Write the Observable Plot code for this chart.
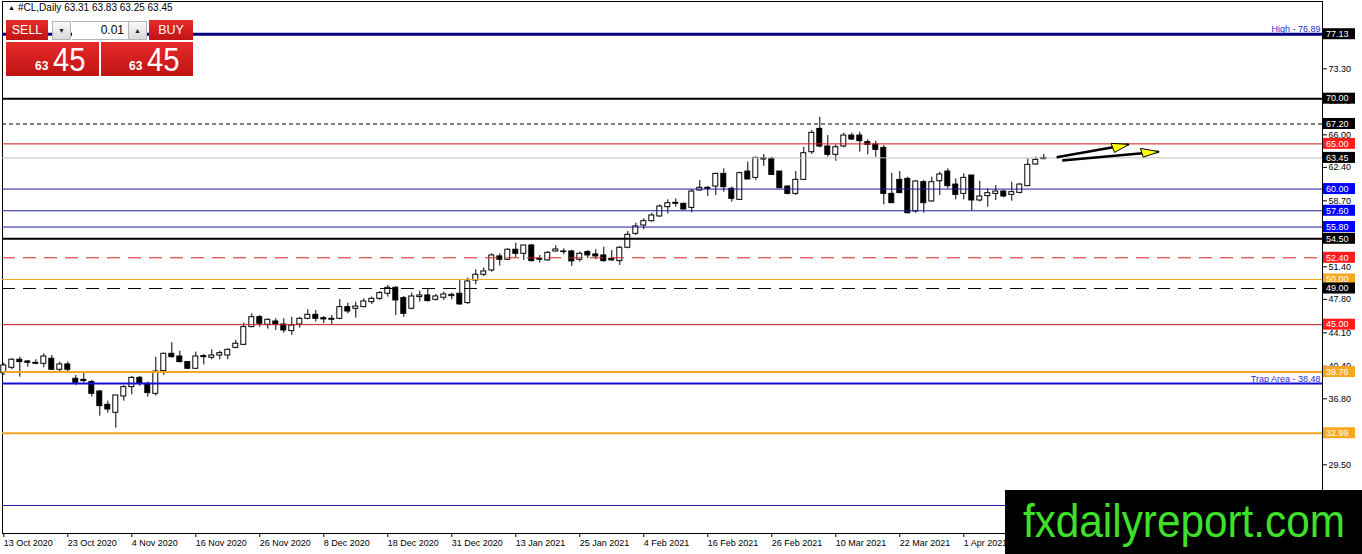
<!DOCTYPE html>
<html><head><meta charset="utf-8">
<script src="https://cdn.jsdelivr.net/npm/d3@7"></script>
<script src="https://cdn.jsdelivr.net/npm/@observablehq/plot@0.6"></script>
<style>
body{margin:0;background:#fff;}
#wrap{position:relative;width:1362px;height:554px;overflow:hidden;font-family:"Liberation Sans",Arial,sans-serif;background:#fff;}
#chart svg{display:block;}
.abs{position:absolute;}
.title{left:18px;top:2px;font-size:10px;color:#000;white-space:nowrap;line-height:12px;}
.tri{left:8px;top:3px;font-size:7px;line-height:10px;}
.red{background:linear-gradient(#e62a2a,#c01414);color:#fff;text-align:center;}
.btn{font-size:12.5px;line-height:20px;height:20px;top:20px;}
.gbtn{top:21px;height:19px;width:19px;background:linear-gradient(#fafafa,#d9d9d9);border:1px solid #b5b5b5;box-sizing:border-box;font-size:7px;line-height:18px;text-align:center;color:#222;}
.lot{left:72px;top:21px;width:56px;height:19px;background:#fff;border-top:1px solid #b5b5b5;border-bottom:1px solid #b5b5b5;box-sizing:border-box;font-size:12px;line-height:17px;text-align:right;padding-right:4px;color:#000;}
.big{top:42px;height:34px;}
.sm{font-size:12px;font-weight:bold;line-height:12px;color:#fff;}
.lg{font-size:34px;line-height:34px;color:#fff;transform:scaleX(0.86);transform-origin:left;}
.logo{left:1005px;top:490px;width:357px;height:64px;background:#000;color:#3fe02a;font-size:47px;line-height:62px;text-align:center;white-space:nowrap;}
.logo span{display:inline-block;transform:scaleX(0.9);}
</style></head>
<body>
<div id="wrap">
  <div id="chart"></div>
  <div class="abs tri">▲</div>
  <div class="abs title" id="title"></div>
  <div class="abs red btn" style="left:6px;width:42px;">SELL</div>
  <div class="abs gbtn" style="left:52px;">▼</div>
  <div class="abs lot">0.01</div>
  <div class="abs gbtn" style="left:128px;">▲</div>
  <div class="abs red btn" style="left:149px;width:44px;">BUY</div>
  <div class="abs red big" style="left:6px;width:93px;"></div>
  <div class="abs red big" style="left:101px;width:92px;"></div>
  <div class="abs sm" style="left:35px;top:60px;">63</div>
  <div class="abs lg" style="left:53px;top:42px;">45</div>
  <div class="abs sm" style="left:129px;top:60px;">63</div>
  <div class="abs lg" style="left:147px;top:42px;">45</div>
  <div class="abs logo"><span>fxdailyreport.com</span></div>
</div>
<script>
// ---- data ----
const symbolTitle = "#CL,Daily  63.31 63.83 63.25 63.45";
const opens = [39.64,40.23,41.12,40.93,40.67,40.67,41.23,40.01,40.60,39.01,
38.90,38.65,37.61,36.14,35.25,37.06,38.09,39.12,38.46,37.35,
39.86,41.78,41.48,40.86,40.12,41.52,41.34,41.59,41.59,42.44,
42.77,44.73,45.83,44.99,45.35,45.02,44.29,45.02,45.65,46.09,
45.72,45.54,45.65,46.94,46.76,46.94,47.49,47.86,48.42,49.08,
47.94,46.76,48.05,48.23,47.75,47.98,48.16,48.42,47.39,49.89,
50.52,51.00,52.55,52.18,53.29,52.84,53.76,52.18,52.11,53.10,
53.10,53.10,52.18,53.03,52.77,52.66,52.29,52.03,53.51,55.05,
55.97,56.45,56.97,58.00,58.48,58.37,57.92,59.84,60.14,60.28,
61.68,60.03,58.81,61.94,61.24,63.42,63.34,61.94,60.28,59.47,
61.02,64.08,66.66,64.71,63.79,64.71,65.92,65.92,65.19,64.93,
64.56,59.47,61.02,61.13,57.52,60.76,58.63,60.87,61.94,60.50,
59.47,61.50,58.74,59.22,59.47,59.73,59.36,59.58,60.32,62.72,63.31];
const highs = [40.75,41.23,41.41,41.04,41.12,41.78,41.59,40.86,40.86,39.38,
39.75,38.83,37.72,36.54,37.17,38.28,39.27,39.27,38.65,41.41,
41.85,43.00,42.07,40.93,41.96,41.70,42.22,42.07,42.33,43.25,
45.17,46.20,46.02,45.65,45.65,45.65,45.83,45.83,46.65,46.57,
45.91,46.02,47.79,47.38,47.49,47.86,48.05,48.67,49.34,49.23,
48.12,48.49,48.71,48.97,48.34,48.60,48.49,49.97,50.15,51.07,
51.26,52.84,52.84,53.40,54.02,53.76,53.87,52.66,53.10,53.73,
53.40,53.21,53.03,53.21,53.29,53.58,53.21,53.65,55.31,56.23,
56.71,57.33,58.26,58.81,58.92,58.44,59.91,60.95,60.28,61.76,
62.24,60.21,61.87,62.98,63.53,63.82,63.53,61.94,60.39,61.94,
64.63,66.48,67.95,65.92,64.89,66.18,66.18,66.29,65.45,65.30,
64.82,61.76,61.94,61.32,60.95,60.95,61.32,61.87,62.24,61.13,
61.68,61.50,60.87,60.03,60.39,59.84,60.76,60.58,63.34,63.53,63.83];
const lows = [39.38,40.01,39.20,40.30,40.56,40.23,39.93,39.64,39.57,38.28,
38.57,36.99,34.88,35.22,33.56,36.54,37.24,38.17,36.99,37.10,
39.38,41.30,40.78,40.05,40.05,40.56,41.12,41.12,41.12,42.33,
42.70,44.65,44.73,44.51,44.36,44.06,43.81,44.62,45.54,45.28,
45.10,45.02,45.54,46.20,45.72,46.87,47.23,47.68,48.05,46.02,
45.80,46.65,47.50,47.50,47.61,47.68,47.75,47.13,47.24,49.41,
50.33,50.81,51.48,52.11,52.40,52.11,51.92,51.81,52.03,53.03,
52.73,51.44,51.92,52.29,52.18,51.92,52.03,51.55,53.40,54.87,
55.50,56.34,56.89,57.26,58.00,57.70,57.37,59.77,59.18,59.29,
59.66,58.55,58.74,61.06,60.95,62.50,61.50,60.03,59.36,59.29,
60.95,63.82,64.56,63.53,63.08,64.56,65.37,64.08,63.79,63.53,
58.26,58.44,59.55,57.26,57.33,57.33,58.55,59.29,60.03,58.81,
58.81,57.63,58.55,58.00,58.74,59.03,58.66,59.47,60.32,62.61,63.25];
const closes = [40.49,41.12,40.86,40.78,40.78,41.48,40.01,40.60,40.01,38.57,
38.76,37.35,35.99,35.62,37.17,38.09,39.12,38.46,37.43,39.82,
41.78,41.41,40.86,40.12,41.48,41.41,41.59,41.85,42.22,42.89,
44.73,45.83,45.10,45.54,45.02,44.36,44.91,45.65,46.09,45.65,
45.58,45.65,46.94,46.46,47.01,47.57,47.86,48.49,49.08,47.68,
46.20,48.12,48.23,47.61,48.12,48.34,48.30,47.24,49.78,50.52,
50.89,52.66,52.18,53.29,52.84,53.76,52.03,52.29,52.95,53.32,
53.03,52.00,52.84,52.66,52.55,52.03,52.11,53.51,54.94,55.87,
56.45,57.08,58.07,58.44,58.37,57.74,59.73,60.14,60.03,61.68,
60.21,58.92,61.76,61.06,63.45,63.27,61.57,60.10,59.47,61.02,
63.97,66.22,64.71,63.79,64.63,65.92,65.48,65.30,64.89,64.34,
59.47,58.44,59.55,57.33,60.84,58.44,60.76,61.61,60.32,59.36,
61.24,58.74,59.18,59.55,59.73,59.18,59.66,60.50,62.68,63.23,63.45];

const xTickIdx = [0,8,16,24,32,40,48,56,64,72,80,88,96,104,112,120];
const xTickLabels = ["13 Oct 2020","23 Oct 2020","4 Nov 2020","16 Nov 2020","26 Nov 2020","8 Dec 2020","18 Dec 2020","31 Dec 2020","13 Jan 2021","25 Jan 2021","4 Feb 2021","16 Feb 2021","26 Feb 2021","10 Mar 2021","22 Mar 2021","1 Apr 2021"];
const yTicks = [29.50,36.80,40.40,44.10,47.80,51.40,58.70,62.40,66.00,69.70,73.30];

const levelValues = [77.13,70.00,67.20,65.00,63.45,60.00,57.60,55.80,54.50,52.40,50.00,49.00,45.00,39.76,38.48,32.99,25.00];
const levelColors = ["#000080","#000000","#000000","#d41c1c","#c0c0c0","#1c1c9c","#1c1c9c","#1c1c9c","#000000","#d42222","#f2a61c","#000000","#cc1414","#f2a620","#1010d8","#f2a620","#1c1c9c"];
const levelWidths = [3,2,1,1,1,1,1,1,2,1,1,1,1,2,2,2,1];
const levelStyles = ["solid","solid","dot","solid","solid","solid","solid","solid","solid","dash","solid","dash","solid","solid","solid","solid","solid"];

const boxValues = [77.13,70.00,67.20,65.00,63.45,60.00,57.60,55.80,54.50,52.40,50.00,49.00,45.00,39.76,32.99];
const boxColors = ["#000","#000","#000","#ff1c1c","#000","#0000ff","#0000ff","#0000ff","#000","#ff1c1c","#f8a820","#000","#ff1c1c","#f8a820","#f8a820"];

const noteValues = [77.13, 38.48];
const noteTexts = ["High - 76.89", "Trap Area - 38.48"];

const arrowX1 = [131.6, 132.3], arrowY1 = [63.53, 63.16];
const arrowX2 = [140.6, 144.4], arrowY2 = [64.93, 64.12];
const triKeys = [0,0,0,1,1,1];
const triX = [138.43,138.84,140.63, 142.09,142.43,144.38];
const triY = [65.01,64.05,64.93, 64.46,63.53,64.12];

// ---- build tables ----
const candles = opens.map((o,i)=>({i, open:o, high:highs[i], low:lows[i], close:closes[i]}));
const levels = levelValues.map((v,k)=>({v, c:levelColors[k], w:levelWidths[k], s:levelStyles[k]}));
const notes = noteValues.map((v,k)=>({v, t:noteTexts[k]}));
const arrows = arrowX1.map((x,k)=>({x1:x, y1:arrowY1[k], x2:arrowX2[k], y2:arrowY2[k]}));
const tri = triX.map((x,k)=>({x, y:triY[k], k:triKeys[k]}));

document.getElementById("title").textContent = symbolTitle;

const chart = Plot.plot({
  width: 1362, height: 554,
  marginLeft: 2, marginRight: 40, marginTop: 1, marginBottom: 21,
  x: {type: "linear", domain: [-0.1625, 164.84], range: [2, 1322]},
  y: {type: "linear", domain: [21.9, 80.75], range: [533, 1]},
  style: {fontFamily: "Liberation Sans, Arial, sans-serif", fontSize: "9px", background: "#fff", color: "#000"},
  marks: [
    Plot.frame({stroke: "#000"}),
    Plot.axisY({anchor: "right", ticks: yTicks, tickSize: 4, tickPadding: 2, tickFormat: d => d.toFixed(2), label: null, fill: "#000", stroke: "#000"}),
    Plot.axisX({anchor: "bottom", ticks: xTickIdx, tickSize: 4, tickPadding: 2, textAnchor: "start", tickFormat: d => xTickLabels[xTickIdx.indexOf(d)], label: null, fill: "#000", stroke: "#000"}),
    Plot.ruleX(candles, {x: "i", y1: "low", y2: "high", stroke: "#000", strokeWidth: 1}),
    Plot.rect(candles, {x1: d => d.i - 0.31, x2: d => d.i + 0.31, y1: "open", y2: "close",
      fill: d => d.close >= d.open ? "#ffffff" : "#000000", stroke: "#000", strokeWidth: 1}),
    Plot.ruleY(levels.filter(d => d.s === "solid"), {y: "v", stroke: "c", strokeWidth: "w"}),
    Plot.ruleY(levels.filter(d => d.s === "dot"), {y: "v", stroke: "c", strokeWidth: "w", strokeDasharray: "4,3"}),
    Plot.ruleY(levels.filter(d => d.s === "dash"), {y: "v", stroke: "c", strokeWidth: "w", strokeDasharray: "13,8"}),
    Plot.text(notes, {y: "v", text: "t", frameAnchor: "right", textAnchor: "end", dx: -2, dy: -5, fill: "#2a2ad0", fontSize: 9}),
    Plot.link(arrows, {x1: "x1", y1: "y1", x2: "x2", y2: "y2", stroke: "#000", strokeWidth: 2.5}),
    Plot.line(tri, {x: "x", y: "y", z: "k", curve: "linear-closed", fill: "#ffff00", stroke: "#000", strokeWidth: 1})
  ]
});
document.getElementById("chart").appendChild(chart);

// value boxes on the right price axis, positioned with Plot's y scale
const ys = chart.scale("y");
const svg = d3.select(chart);
const g = svg.append("g").attr("font-family", "Liberation Sans, Arial, sans-serif").attr("font-size", 9).attr("text-anchor", "start");
boxValues.forEach((v, k) => {
  const yy = ys.apply(v);
  g.append("rect").attr("x", 1323).attr("y", yy - 5.5).attr("width", 32).attr("height", 11).attr("fill", boxColors[k]);
  g.append("text").attr("x", 1326).attr("y", yy + 3.3).attr("text-anchor", "start").attr("fill", "#fff").text(v.toFixed(2));
});
</script>
</body></html>
